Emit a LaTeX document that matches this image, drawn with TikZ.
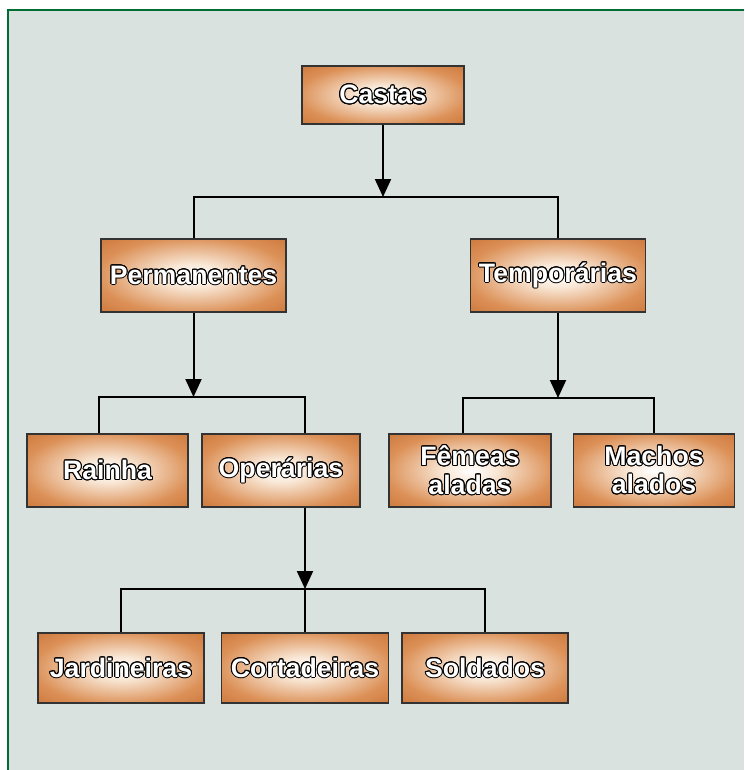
\documentclass[tikz,border=0pt]{standalone}
\usepackage{fontspec}
\setmainfont{Liberation Sans}
\usepackage{contour}
\usetikzlibrary{arrows.meta}
\contourlength{0.75pt}
\definecolor{fundo}{RGB}{217,226,223}
\definecolor{moldura}{RGB}{0,110,50}
\definecolor{laranja}{RGB}{190,94,30}
\definecolor{pessego}{RGB}{220,145,88}
\definecolor{creme}{RGB}{249,232,215}
\pgfdeclareradialshading{brilho}{\pgfpoint{0bp}{0bp}}{color(0bp)=(white); color(8bp)=(creme); color(26bp)=(pessego); color(47bp)=(laranja); color(72bp)=(laranja)}
\newcommand{\letra}[1]{\contour{black}{#1}}
\tikzset{
  casta/.style={draw=black!80, line width=0.9pt, shading=brilho, minimum height=54.75pt, inner sep=0pt, text=white, align=center, font=\fontsize{20}{21.5}\selectfont\bfseries},
  liga/.style={line width=1.5pt},
  seta/.style={liga, -{Triangle[length=13.5pt,width=12pt]}}
}

\begin{document}
\begin{tikzpicture}[x=0.75pt,y=-0.75pt]
\useasboundingbox (0,0) rectangle (744,770);
\fill[fundo] (8,10) rectangle (744,770);
\draw[moldura,line width=1.6pt] (8,770) -- (8,10) -- (744,10);

\node[casta,minimum width=121.5pt,minimum height=43.5pt] (castas) at (383,95) {\letra{Castas}};
\node[casta,minimum width=138.75pt] (perm) at (193.5,275.5) {\letra{Permanentes}};
\node[casta,minimum width=131.25pt] (temp) at (558,275.5) {\letra{Temporárias}};
\node[casta,minimum width=120.75pt] (rainha) at (107.5,470.5) {\letra{Rainha}};
\node[casta,minimum width=118.5pt] (oper) at (281,470.5) {\letra{Operárias}};
\node[casta,minimum width=121.5pt] (femeas) at (470,470.5) {\letra{Fêmeas}\\\letra{aladas}};
\node[casta,minimum width=120.75pt] (machos) at (654,470.5) {\letra{Machos}\\\letra{alados}};
\node[casta,minimum width=124.5pt,minimum height=52.5pt] (jard) at (121,668) {\letra{Jardineiras}};
\node[casta,minimum width=125.25pt,minimum height=52.5pt] (cort) at (305,668) {\letra{Cortadeiras}};
\node[casta,minimum width=124.5pt,minimum height=52.5pt] (sold) at (485,668) {\letra{Soldados}};

\coordinate (j1) at (383,197);
\coordinate (j2) at (193.5,397);
\coordinate (j3) at (305,589);
\coordinate (j4) at (558,398);

\draw[seta] (castas.south) -- (j1);
\draw[liga] (perm.north) |- (j1) -| (temp.north);
\draw[seta] (perm.south) -- (j2);
\draw[liga] ([xshift=-6.4pt]rainha.north) |- (j2) -| ([xshift=18pt]oper.north);
\draw[seta] ([xshift=18pt]oper.south) -- (j3);
\draw[liga] (jard.north) |- (j3) -| (sold.north);
\draw[liga] (cort.north) -- (j3);
\draw[seta] (temp.south) -- (j4);
\draw[liga] ([xshift=-5.25pt]femeas.north) |- (j4) -| (machos.north);
\end{tikzpicture}
\end{document}
